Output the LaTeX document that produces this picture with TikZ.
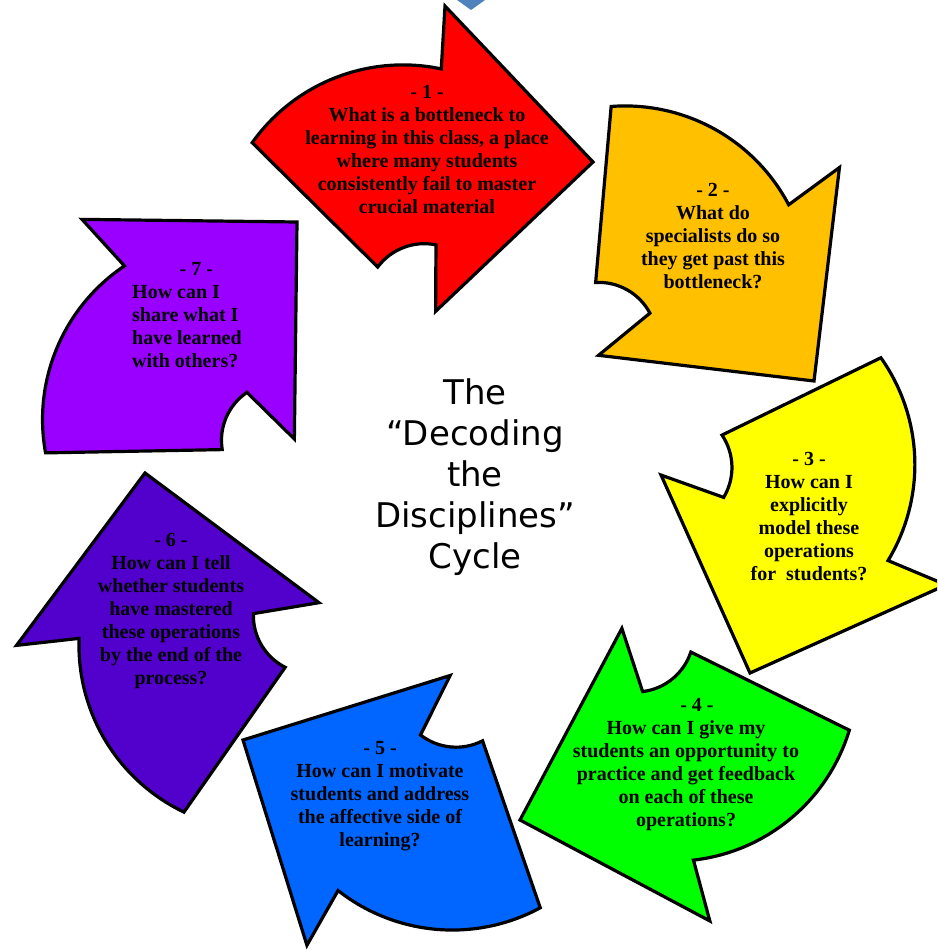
\documentclass[tikz,border=0pt]{standalone}
\usepackage{fontspec}
\setmainfont{Liberation Serif}
\newfontfamily\cycletitlefont{DejaVu Sans}

\definecolor{stepred}{HTML}{FF0000}
\definecolor{steporange}{HTML}{FFC000}
\definecolor{stepyellow}{HTML}{FFFF00}
\definecolor{stepgreen}{HTML}{00FF00}
\definecolor{stepblue}{HTML}{0066FF}
\definecolor{stepindigo}{HTML}{5200CC}
\definecolor{stepviolet}{HTML}{9900FF}
\definecolor{markerblue}{HTML}{4F81BD}

\tikzset{
  arrowbody/.style={draw=black, line width=3.2pt, line join=miter, fill=#1},
  % curved block arrow: tip at the origin, head along +x and +y,
  % outer arc and notched inner arc forming the tail
  pics/cyclearrow/.style={code={
    \path[arrowbody=#1] (0,0) -- (215,0) -- (172,46)
      arc[start angle=-55.44, end angle=11.09, radius=185]
      -- (72,228.5)
      arc[start angle=9.84, end angle=-55.18, radius=58]
      -- (0,217) -- cycle;
  }},
  question/.style={font=\bfseries\fontsize{20}{23}\selectfont, align=center, inner sep=0pt},
  cycletitle/.style={font=\cycletitlefont\fontsize{34}{41}\selectfont, align=center, inner sep=0pt},
}

\begin{document}
\begin{tikzpicture}[x=1pt, y=1pt]
  \clip (0,0) rectangle (937,-950);
  \fill[white] (0,0) rectangle (937,-950);

  % corner of a marker reaching in from the top edge
  \fill[markerblue] (436,15) -- (506,15) -- (471,-10) -- cycle;

  % the seven steps, arranged clockwise
  \pic[rotate=133.5]  at (593,-162) {cyclearrow=stepred};
  \pic[rotate=83.2]   at (814,-381) {cyclearrow=steporange};
  \pic[rotate=24.2]   at (750,-673) {cyclearrow=stepyellow};
  \pic[rotate=-28]    at (520,-820) {cyclearrow=stepgreen};
  \pic[rotate=-72.7]  at (243,-740) {cyclearrow=stepblue};
  \pic[rotate=-126.7] at (145,-473) {cyclearrow=stepindigo};
  \pic[rotate=-180.7] at (297,-222) {cyclearrow=stepviolet};

  % questions
  \node[question] (q1) at (427,-149.5) {- 1 -\\What is a bottleneck to\\learning in this class, a place\\where many students\\consistently fail to master\\crucial material};
  \node[question] (q2) at (713,-236) {- 2 -\\What do\\specialists do so\\they get past this\\bottleneck?};
  \node[question] (q3) at (809,-516.5) {- 3 -\\How can I\\explicitly\\model these\\operations\\for~~students?};
  \node[question] (q4) at (686,-764.5) {\hspace*{22pt}- 4 -\\How can I give my\\students an opportunity to\\practice and get feedback\\on each of these\\operations?};
  \node[question] (q5) at (380,-796) {- 5 -\\How can I motivate\\students and address\\the affective side of\\learning?};
  \node[question] (q6) at (171,-611) {- 6 -\\How can I tell\\whether students\\have mastered\\these operations\\by the end of the\\process?};
  \node[question, align=left, anchor=west] (q7) at (132,-315) {\hspace*{47.5pt}- 7 -\\How can I\\share what I\\have learned\\with others?};

  % centre title
  \node[cycletitle] (title) at (475,-477) {The\\“Decoding\\the\\Disciplines”\\Cycle};
\end{tikzpicture}
\end{document}
